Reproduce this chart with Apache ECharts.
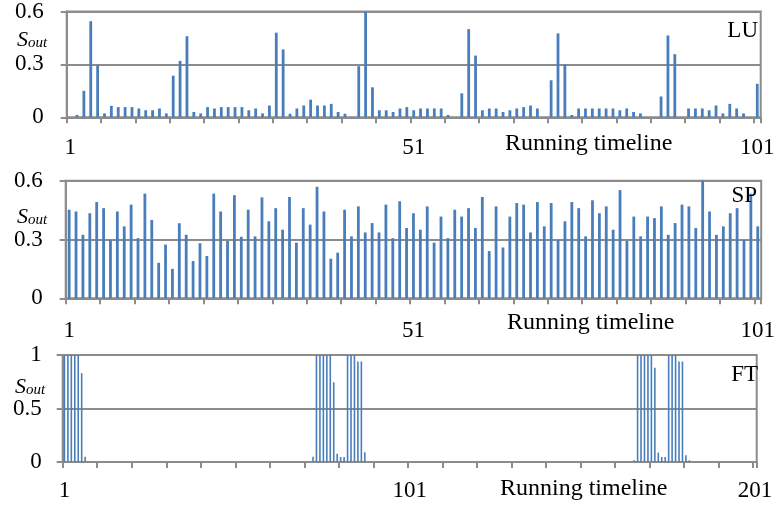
<!DOCTYPE html>
<html><head><meta charset="utf-8">
<script src="https://cdn.jsdelivr.net/npm/echarts@6/dist/echarts.min.js"></script>
<style>html,body{margin:0;padding:0;background:#fff}#c{width:778px;height:508px}</style>
</head><body><div id="c"></div>
<script>
// ---- data ----
const luCategories = Array.from({length: 101}, (_, i) => String(i + 1));
const spCategories = Array.from({length: 101}, (_, i) => String(i + 1));
const ftCategories = Array.from({length: 201}, (_, i) => String(i + 1));

const luTickLabels = ['1', '51', '101'];
const spTickLabels = ['1', '51', '101'];
const ftTickLabels = ['1', '101', '201'];

const luValues = [
  0, 0.013, 0.15, 0.545, 0.295, 0.022, 0.065, 0.058, 0.058, 0.058,
  0.05, 0.04, 0.04, 0.05, 0.022, 0.236, 0.32, 0.46, 0.03, 0.022,
  0.058, 0.05, 0.058, 0.058, 0.058, 0.058, 0.04, 0.05, 0.022, 0.067,
  0.48, 0.385, 0.02, 0.05, 0.067, 0.1, 0.067, 0.067, 0.076, 0.03,
  0.02, 0, 0.29, 0.6, 0.17, 0.04, 0.04, 0.03, 0.05, 0.058,
  0.04, 0.05, 0.05, 0.05, 0.05, 0.013, 0, 0.136, 0.5, 0.35,
  0.04, 0.05, 0.05, 0.03, 0.04, 0.05, 0.058, 0.067, 0.05, 0,
  0.21, 0.476, 0.3, 0.013, 0.05, 0.05, 0.05, 0.05, 0.05, 0.05,
  0.04, 0.05, 0.03, 0.022, 0, 0, 0.118, 0.464, 0.358, 0,
  0.05, 0.05, 0.05, 0.04, 0.067, 0.022, 0.076, 0.05, 0.022, 0,
  0.19
];

const spValues = [
  0.452, 0.443, 0.324, 0.434, 0.491, 0.46, 0.298, 0.443, 0.367, 0.478,
  0.307, 0.534, 0.4, 0.181, 0.274, 0.15, 0.383, 0.324, 0.19, 0.281,
  0.216, 0.534, 0.443, 0.293, 0.526, 0.314, 0.452, 0.316, 0.515, 0.393,
  0.46, 0.35, 0.517, 0.284, 0.46, 0.376, 0.569, 0.443, 0.202, 0.233,
  0.452, 0.316, 0.469, 0.336, 0.384, 0.336, 0.478, 0.307, 0.495, 0.359,
  0.434, 0.35, 0.469, 0.284, 0.417, 0.307, 0.452, 0.417, 0.46, 0.359,
  0.517, 0.241, 0.469, 0.259, 0.417, 0.486, 0.478, 0.336, 0.491, 0.367,
  0.486, 0.298, 0.393, 0.491, 0.46, 0.316, 0.5, 0.434, 0.469, 0.35,
  0.552, 0.293, 0.417, 0.316, 0.417, 0.409, 0.469, 0.324, 0.384, 0.478,
  0.469, 0.359, 0.6, 0.443, 0.324, 0.367, 0.434, 0.46, 0.298, 0.534,
  0.367
];

const ftValues = [
  1, 1, 1, 1, 1, 0.83, 0.05, 0, 0, 0, 0, 0, 0, 0, 0, 0, 0, 0, 0, 0,
  0, 0, 0, 0, 0, 0, 0, 0, 0, 0, 0, 0, 0, 0, 0, 0, 0, 0, 0, 0,
  0, 0, 0, 0, 0, 0, 0, 0, 0, 0, 0, 0, 0, 0, 0, 0, 0, 0, 0, 0,
  0, 0, 0, 0, 0, 0, 0, 0, 0, 0, 0, 0, 0.05, 1, 1, 1, 1, 1, 0.745, 0.078,
  0.047, 0.047, 1, 1, 1, 0.94, 0.94, 0.09, 0, 0, 0, 0, 0, 0, 0, 0, 0, 0, 0, 0,
  0, 0, 0, 0, 0, 0, 0, 0, 0, 0, 0, 0, 0, 0, 0, 0, 0, 0, 0, 0,
  0, 0, 0, 0, 0, 0, 0, 0, 0, 0, 0, 0, 0, 0, 0, 0, 0, 0, 0, 0,
  0, 0, 0, 0, 0, 0, 0, 0, 0, 0, 0, 0, 0, 0, 0, 0, 0, 0, 0, 0,
  0, 0, 0, 0, 0, 0.016, 1, 1, 1, 1, 1, 0.88, 0.088, 0.047, 0.047, 1, 1, 1, 0.94, 0.94,
  0.063, 0.016, 0, 0, 0, 0, 0, 0, 0, 0, 0, 0, 0, 0, 0, 0, 0, 0, 0, 0,
  0
];

const panelNames = ['LU', 'SP', 'FT'];
const axisTitle = 'Running timeline';

// ---- styling ----
const FONT = 'Liberation Serif';
const GRAY = '#8c8c8c';
const BLUE = '#4a7ebb';

const grids = [
  {left: 66.7, top: 10, width: 694, height: 107.3},
  {left: 65.7, top: 180.7, width: 696, height: 117.6},
  {left: 62.7, top: 355, width: 694, height: 107}
];

function xAxisCfg(i, cats, tickLabels, tickInterval, margin) {
  return {
    type: 'category', gridIndex: i, data: cats, boundaryGap: true,
    axisLine: {show: true, lineStyle: {color: GRAY, width: 2}},
    axisTick: {show: true, interval: tickInterval, length: 6, lineStyle: {color: GRAY, width: 2}},
    axisLabel: {
      interval: (idx, val) => tickLabels.includes(val),
      margin: margin, fontFamily: FONT, fontSize: 23, color: '#000'
    },
    splitLine: {show: false}
  };
}
function yAxisCfg(i, max, interval, margin) {
  return {
    type: 'value', gridIndex: i, min: 0, max: max, interval: interval,
    axisLine: {show: true, lineStyle: {color: GRAY, width: 2}},
    axisTick: {show: true, length: 6, lineStyle: {color: GRAY, width: 2}},
    axisLabel: {margin: margin, fontFamily: FONT, fontSize: 23, color: '#000'},
    splitLine: {show: true, lineStyle: {color: GRAY, width: 2}}
  };
}

function sout(x, y) {
  return {
    type: 'text', left: x, top: y, z: 100,
    style: {
      text: '{s|S}{o|out}',
      rich: {
        s: {fontFamily: FONT, fontStyle: 'italic', fontSize: 22, fill: '#000'},
        o: {fontFamily: FONT, fontStyle: 'italic', fontSize: 15, fill: '#000', verticalAlign: 'bottom'}
      }
    }
  };
}
function label(text, x, y, align, size) {
  return {
    type: 'text', x: x, y: y, z: 100,
    style: {text: text, fontFamily: FONT, fontSize: size || 22, fill: '#000', align: align, verticalAlign: 'middle'}
  };
}

const option = {
  animation: false,
  backgroundColor: '#fff',
  grid: grids.map(g => Object.assign({show: true, borderColor: GRAY, borderWidth: 2, backgroundColor: 'transparent'}, g)),
  xAxis: [
    xAxisCfg(0, luCategories, luTickLabels, 4, 19),
    xAxisCfg(1, spCategories, spTickLabels, 4, 21),
    xAxisCfg(2, ftCategories, ftTickLabels, 9, 17)
  ],
  yAxis: [
    yAxisCfg(0, 0.6, 0.3, 23),
    yAxisCfg(1, 0.6, 0.3, 23),
    yAxisCfg(2, 1, 0.5, 21)
  ],
  series: [
    {type: 'bar', xAxisIndex: 0, yAxisIndex: 0, data: luValues, barWidth: 2.8, itemStyle: {color: BLUE}},
    {type: 'bar', xAxisIndex: 1, yAxisIndex: 1, data: spValues, barWidth: 2.8, itemStyle: {color: BLUE}},
    {type: 'bar', xAxisIndex: 2, yAxisIndex: 2, data: ftValues, barWidth: 1.6, itemStyle: {color: BLUE}}
  ],
  graphic: [
    sout(17, 29), sout(17, 206), sout(15, 376),
    label(panelNames[0], 758, 31, 'right', 23),
    label(panelNames[1], 757, 196, 'right', 23),
    label(panelNames[2], 758, 375, 'right', 23),
    label(axisTitle, 505, 144, 'left', 24),
    label(axisTitle, 507, 323, 'left', 24),
    label(axisTitle, 500, 489, 'left', 24)
  ]
};

const chart = echarts.init(document.getElementById('c'), null, {renderer: 'canvas'});
chart.setOption(option);
</script>
</body></html>
